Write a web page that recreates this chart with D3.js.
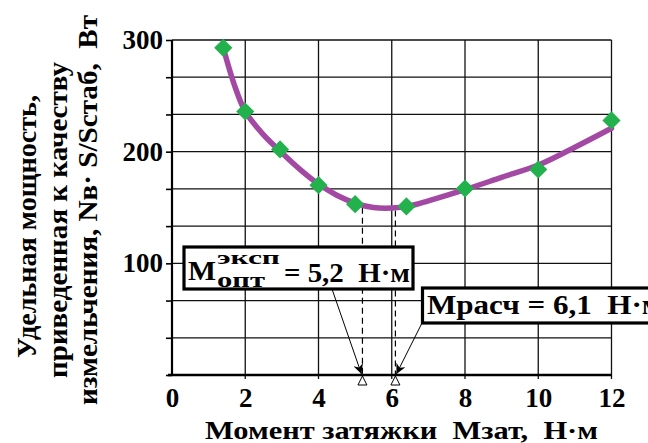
<!DOCTYPE html>
<html><head><meta charset="utf-8">
<script src="https://cdn.jsdelivr.net/npm/d3@7"></script>
<style>
html,body{margin:0;padding:0;background:#fff;}
svg{display:block;}
text{font-family:"Liberation Serif","Times New Roman",serif;font-weight:bold;fill:#000;white-space:pre;}
</style></head>
<body>
<script>
// ---- data ----
const pointX = [1.4, 2, 2.95, 4, 5, 6.4, 8, 10, 12];
const pointY = [293, 236, 202, 170, 153, 151, 167, 184, 228];
const curveX = [1.4, 1.7, 2, 2.5, 3, 3.5, 4, 4.5, 5, 5.5, 6, 6.5, 7, 8, 9, 10, 11, 12];
const curveY = [293, 260, 236, 215, 199, 184, 171, 161, 154, 150, 149.5, 151.5, 156, 166, 177, 188, 204, 221];
const xTicks = [0, 2, 4, 6, 8, 10, 12];
const yGrid = d3.range(0, 10).map(i => i * 100 / 3);
const yLabels = [100, 200, 300];
const markExp = 5.2, markCalc = 6.1;
const yTitle = ["Удельная мощность,", "приведенная к качеству", "измельчения, Nв· S/Sстаб,  Вт"];
const xTitle = "Момент затяжки  Мзат,  Н·м";

const W = 648, H = 443;
const svg = d3.select("body").append("svg").attr("width", W).attr("height", H);
const x = d3.scaleLinear().domain([0, 12]).range([172, 611.5]);
const y = d3.scaleLinear().domain([0, 300]).range([375, 40]);

// grid
const g = svg.append("g");
g.selectAll("line.h").data(yGrid.filter(v => v > 0)).join("line")
  .attr("x1", x(0)).attr("x2", x(12)).attr("y1", d => y(d)).attr("y2", d => y(d))
  .attr("stroke", "#111").attr("stroke-width", 1.3);
g.selectAll("line.v").data(xTicks.filter(v => v > 0)).join("line")
  .attr("x1", d => x(d)).attr("x2", d => x(d)).attr("y1", y(300)).attr("y2", y(0) + 4)
  .attr("stroke", "#111").attr("stroke-width", 1.3);

// y axis
const yAxis = d3.axisLeft(y).tickValues(yGrid).tickSize(6)
  .tickFormat(d => yLabels.some(v => Math.abs(v - d) < 0.01) ? d3.format("d")(Math.round(d)) : "");
const ya = svg.append("g").attr("transform", `translate(${x(0)},0)`).call(yAxis);
ya.select(".domain").attr("stroke", "#000").attr("stroke-width", 2.2).attr("d", `M0,${y(300)}V${y(0)}`);
ya.selectAll(".tick line").attr("stroke", "#000").attr("stroke-width", 1.6);
ya.selectAll(".tick text").attr("font-size", 27).attr("x", -9).attr("dy", "0.32em");

// x axis
const xAxis = d3.axisBottom(x).tickValues(xTicks).tickSize(0).tickFormat(d3.format("d"));
const xa = svg.append("g").attr("transform", `translate(0,${y(0)})`).call(xAxis);
xa.select(".domain").attr("stroke", "#000").attr("stroke-width", 2.6).attr("d", `M${x(0) - 4},0H${x(12)}`);
xa.selectAll(".tick text").attr("font-size", 27).attr("y", 13).attr("dy", "0.71em");

// dashed marker lines
const curveAt = v => {
  const i = d3.bisectLeft(curveX, v);
  const t = (v - curveX[i - 1]) / (curveX[i] - curveX[i - 1]);
  return curveY[i - 1] + t * (curveY[i] - curveY[i - 1]);
};
[markExp, markCalc].forEach(m => {
  svg.append("line").attr("x1", x(m)).attr("x2", x(m)).attr("y1", y(curveAt(m)) + 3).attr("y2", y(0))
    .attr("stroke", "#000").attr("stroke-width", 1.2).attr("stroke-dasharray", "6,4");
  svg.append("path").attr("d", `M${x(m)},${y(0) + 1}L${x(m) - 4.5},${y(0) + 10}L${x(m) + 4.5},${y(0) + 10}Z`)
    .attr("fill", "#fff").attr("stroke", "#000").attr("stroke-width", 1);
});

// curve
const line = d3.line().x((d, i) => x(curveX[i])).y((d, i) => y(curveY[i])).curve(d3.curveCatmullRom.alpha(0.5));
svg.append("path").datum(curveY).attr("d", line).attr("fill", "none")
  .attr("stroke", "#a349a4").attr("stroke-width", 5.5).attr("stroke-linecap", "round");

// diamonds
const sym = d3.symbol().type(d3.symbolSquare).size(165);
svg.selectAll("path.pt").data(pointX).join("path").attr("class", "pt")
  .attr("d", sym).attr("fill", "#22b14c")
  .attr("transform", (d, i) => `translate(${x(d)},${y(pointY[i])}) rotate(45)`);

// arrows
const defs = svg.append("defs");
defs.append("marker").attr("id", "ah").attr("viewBox", "0 0 10 10").attr("refX", 10).attr("refY", 5)
  .attr("markerWidth", 14).attr("markerHeight", 10).attr("markerUnits", "userSpaceOnUse").attr("orient", "auto")
  .append("path").attr("d", "M0,0L10,5L0,10L3,5Z").attr("fill", "#000");
svg.append("line").attr("x1", 332).attr("y1", 289).attr("x2", x(markExp) - 1).attr("y2", y(0) - 1)
  .attr("stroke", "#000").attr("stroke-width", 1).attr("marker-end", "url(#ah)");
svg.append("line").attr("x1", 422).attr("y1", 323).attr("x2", x(markCalc) + 1).attr("y2", y(0) - 1)
  .attr("stroke", "#000").attr("stroke-width", 1).attr("marker-end", "url(#ah)");

// annotation box 1
svg.append("rect").attr("x", 184).attr("y", 247).attr("width", 229).attr("height", 42)
  .attr("fill", "#fff").attr("stroke", "#000").attr("stroke-width", 3.2);
const t1 = svg.append("text").attr("x", 188).attr("y", 280).attr("font-size", 28);
t1.append("tspan").attr("textLength", 28).attr("lengthAdjust", "spacingAndGlyphs").text("M");
t1.append("tspan").attr("x", 217).attr("y", 264).attr("font-size", 19).attr("textLength", 63)
  .attr("lengthAdjust", "spacingAndGlyphs").text("эксп");
t1.append("tspan").attr("x", 217).attr("y", 286.5).attr("font-size", 20).attr("textLength", 48)
  .attr("lengthAdjust", "spacingAndGlyphs").text("опт");
t1.append("tspan").attr("x", 284).attr("y", 281.5).attr("font-size", 27).attr("textLength", 126)
  .attr("lengthAdjust", "spacingAndGlyphs").text("= 5,2  Н·м");

// annotation box 2
svg.append("rect").attr("x", 422.5).attr("y", 288).attr("width", 240).attr("height", 35)
  .attr("fill", "#fff").attr("stroke", "#000").attr("stroke-width", 3.2);
svg.append("text").attr("x", 427).attr("y", 313.5).attr("font-size", 27).attr("textLength", 236)
  .attr("lengthAdjust", "spacingAndGlyphs").text("Mрасч = 6,1  Н·м");

// x title
svg.append("text").attr("x", 205).attr("y", 439).attr("font-size", 25).attr("textLength", 393)
  .attr("lengthAdjust", "spacingAndGlyphs").text(xTitle);

// y title (rotated)
const yt = [{bx: 36, cy: 226.5, len: 263}, {bx: 67, cy: 220, len: 316}, {bx: 97, cy: 210, len: 390}];
yTitle.forEach((t, i) => {
  svg.append("text").attr("transform", `translate(${yt[i].bx},${yt[i].cy}) rotate(-90)`)
    .attr("text-anchor", "middle").attr("font-size", 27).attr("textLength", yt[i].len)
    .attr("lengthAdjust", "spacingAndGlyphs").text(t);
});
</script>
</body></html>
